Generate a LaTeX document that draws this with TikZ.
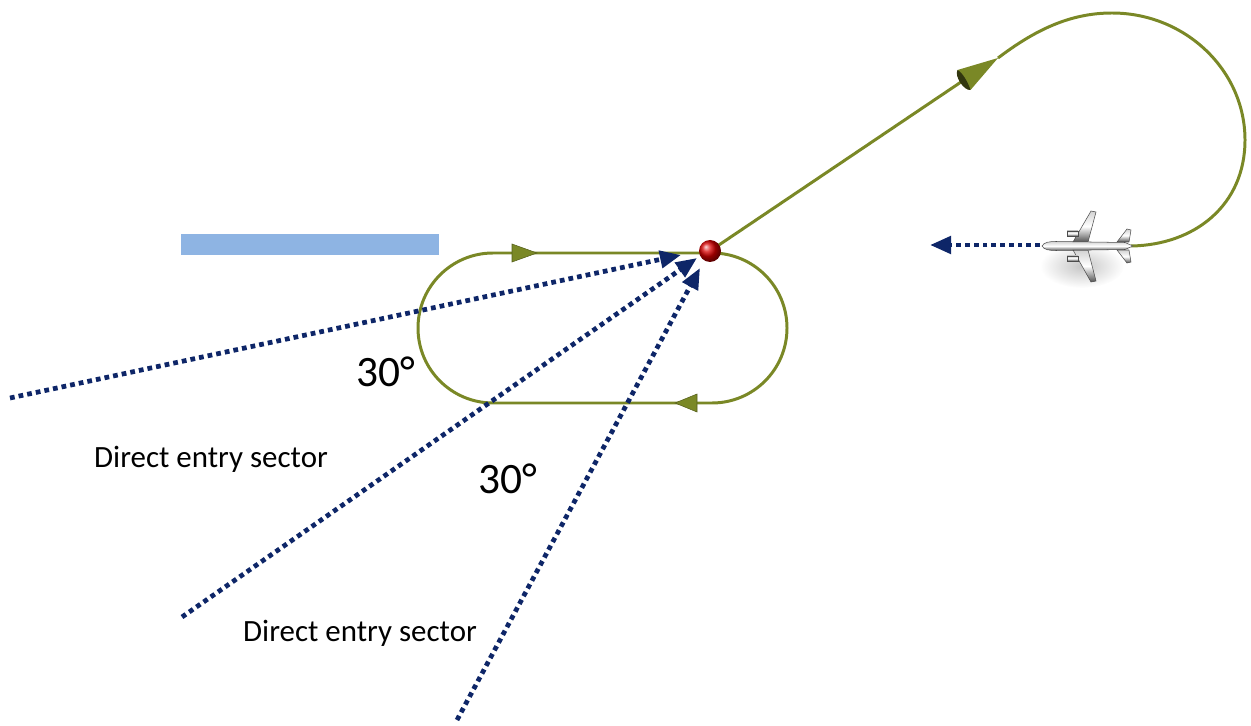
\documentclass[tikz,border=0pt]{standalone}
\usepackage{fontspec}
\setmainfont{Carlito}
\usetikzlibrary{arrows.meta,calc}
\definecolor{track}{RGB}{122,136,38}
\definecolor{trackdark}{RGB}{50,55,15}
\definecolor{navy}{RGB}{14,38,104}
\definecolor{rwy}{RGB}{142,180,227}

\begin{document}
\begin{tikzpicture}[x=0.02cm,y=-0.02cm,
  trackline/.style={draw=track,line width=1.7pt},
  trackhead/.style={fill=track,draw=track!70!black,line width=0.3pt},
  entry/.style={draw=navy,line width=2.7pt,dash pattern=on 2.7pt off 2.3pt,
    -{Triangle[length=0.42cm,width=0.34cm]}},
  label/.style={font=\fontsize{17.6}{20}\selectfont,anchor=base,inner sep=0pt},
  angle/.style={font=\fontsize{24.7}{28}\selectfont,anchor=base,inner sep=0pt},
  planebody/.style={draw=gray!60!black,line width=0.3pt,top color=gray!35,bottom color=gray!65!black,middle color=white},
  softshadow/.style={inner color=gray!45,outer color=white}
]
\useasboundingbox (0,0) rectangle (1251,726);

% key points
\coordinate (fix) at (710,251);
\coordinate (conebase) at (964,80);
\coordinate (conetip) at (998,58);
\coordinate (tail) at (1131,246);
\coordinate (nose) at (1040,245);
\coordinate (heading) at (930,245);

% runway bar
\fill[rwy] (181,234) rectangle (439,255);

% soft shadow below the aircraft
\shade[softshadow] (1082,266) ellipse (42 and 22);

% holding pattern (racetrack)
\draw[trackline] (493,253) -- (712,253) arc (-90:90:75) -- (493,403) arc (90:270:75) -- cycle;
\fill[trackhead] (512,244) -- (537,253) -- (512,262) -- cycle;
\fill[trackhead] (697,394) -- (675,403) -- (697,412) -- cycle;

% outbound leg, teardrop turn and track to the aircraft
\draw[trackline] (fix) -- (conebase);
\draw[trackline] (conetip) .. controls (1035,30) and (1070,13) .. (1112,13)
   .. controls (1185,13) and (1245,70) .. (1245,140)
   .. controls (1245,205) and (1195,245) .. (tail);

% direction cone with its dark base
\fill[track] ($(conebase)+(-6.5,-10)$) -- (conetip) -- ($(conebase)+(6.5,10)$) -- cycle;
\fill[trackdark] ($(conebase)+(-6.5,-10)$) .. controls ($(conebase)+(-10,-4)$) and ($(conebase)+(0,11)$) .. ($(conebase)+(6.5,10)$)
   .. controls ($(conebase)+(4,2)$) and ($(conebase)+(-2,-8)$) .. cycle;

% direct entry sectors
\coordinate (e1) at (10,398);
\coordinate (e1t) at (681,255);
\coordinate (e2) at (182,617);
\coordinate (e2t) at (697,258);
\coordinate (e3) at (457,720);
\coordinate (e3t) at (700,268);
\draw[entry] (e1) -- (e1t);
\draw[entry] (e2) -- (e2t);
\draw[entry] (e3) -- (e3t);

% holding fix
\shade[ball color=red!85!black] (fix) circle (11);

% aircraft heading
\draw[entry] (nose) -- (heading);

% aircraft
\begin{scope}
  \draw[planebody] (1073,242) -- (1091,211) -- (1096,212) -- (1088,242) -- cycle;
  \draw[planebody] (1073,250) -- (1091,282) -- (1096,281) -- (1088,250) -- cycle;
  \draw[planebody] (1117,242) -- (1127,229) -- (1131,230) -- (1129,242) -- cycle;
  \draw[planebody] (1117,250) -- (1127,263) -- (1131,262) -- (1129,250) -- cycle;
  \draw[planebody] (1067,231) rectangle (1078,236);
  \draw[planebody] (1067,256) rectangle (1078,261);
  \draw[planebody] (1042,246) .. controls (1044,242) and (1050,241.5) .. (1056,241.5)
     -- (1125,242.5) -- (1133,246) -- (1125,249.5) -- (1056,250.5)
     .. controls (1050,250.5) and (1044,250) .. cycle;
\end{scope}

% labels
\node[angle] (a1) at (386,386) {30°};
\node[angle] (a2) at (508,493) {30°};
\node[label] (s1) at (211,467) {Direct entry sector};
\node[label] (s2) at (360,641) {Direct entry sector};
\end{tikzpicture}
\end{document}
